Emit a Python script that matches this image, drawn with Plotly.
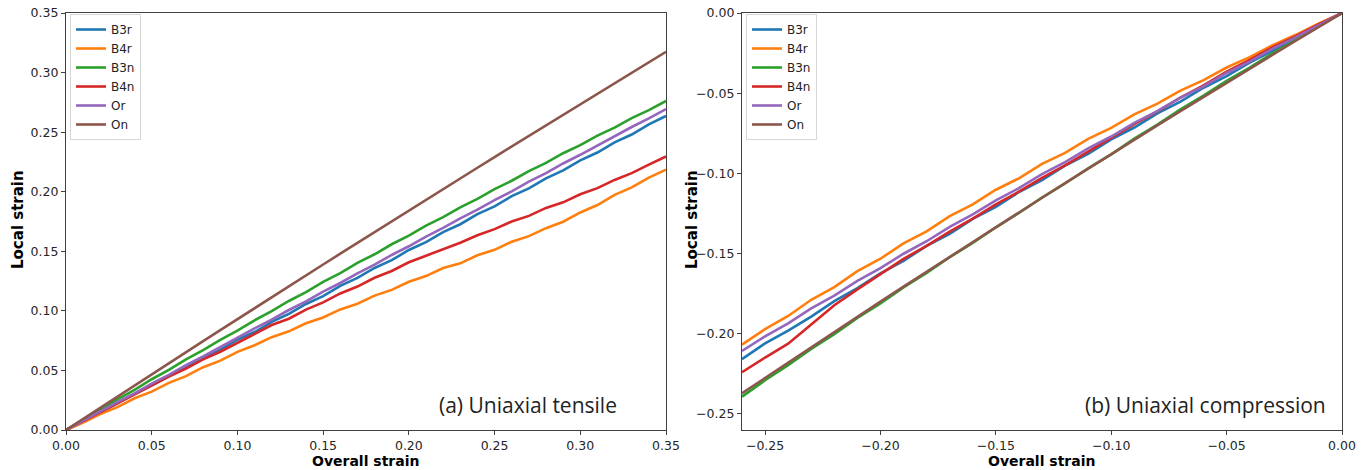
import plotly.graph_objects as go

# ---------------- data ----------------
series_names = ["B3r", "B4r", "B3n", "B4n", "Or", "On"]
series_colors = ["#1f77b4", "#ff7f0e", "#2ca02c", "#d62728", "#9467bd", "#8c564b"]

# (a) Uniaxial tensile
x_left = [0.00, 0.01, 0.02, 0.03, 0.04, 0.05, 0.06, 0.07, 0.08, 0.09,
          0.10, 0.11, 0.12, 0.13, 0.14, 0.15, 0.16, 0.17, 0.18, 0.19,
          0.20, 0.21, 0.22, 0.23, 0.24, 0.25, 0.26, 0.27, 0.28, 0.29,
          0.30, 0.31, 0.32, 0.33, 0.34, 0.35]
B3r_left = [0, 0.0073, 0.0153, 0.0224, 0.0304, 0.0374, 0.0455, 0.0522, 0.0606, 0.0672,
            0.0758, 0.0822, 0.0908, 0.0975, 0.1058, 0.1124, 0.1210, 0.1276, 0.1360, 0.1425,
            0.1511, 0.1577, 0.1661, 0.1727, 0.1812, 0.1877, 0.1963, 0.2028, 0.2112, 0.2179,
            0.2263, 0.2329, 0.2414, 0.2480, 0.2565, 0.2636]
B4r_left = [0, 0.0062, 0.0134, 0.0192, 0.0266, 0.0322, 0.0396, 0.0452, 0.0527, 0.0582,
            0.0656, 0.0711, 0.0779, 0.0828, 0.0896, 0.0944, 0.1012, 0.1060, 0.1128, 0.1176,
            0.1244, 0.1292, 0.1360, 0.1399, 0.1467, 0.1512, 0.1580, 0.1627, 0.1694, 0.1748,
            0.1826, 0.1888, 0.1974, 0.2036, 0.2118, 0.2185]
B3n_left = [0, 0.0087, 0.0168, 0.0258, 0.0337, 0.0426, 0.0504, 0.0592, 0.0670, 0.0757,
            0.0834, 0.0921, 0.0997, 0.1083, 0.1157, 0.1243, 0.1316, 0.1402, 0.1475, 0.1559,
            0.1631, 0.1715, 0.1786, 0.1869, 0.1940, 0.2022, 0.2092, 0.2173, 0.2242, 0.2323,
            0.2391, 0.2471, 0.2538, 0.2618, 0.2685, 0.2762]
B4n_left = [0, 0.0074, 0.0154, 0.0222, 0.0302, 0.0370, 0.0449, 0.0515, 0.0593, 0.0657,
            0.0734, 0.0806, 0.0881, 0.0934, 0.1010, 0.1071, 0.1146, 0.1204, 0.1278, 0.1335,
            0.1408, 0.1463, 0.1518, 0.1572, 0.1634, 0.1686, 0.1750, 0.1797, 0.1864, 0.1911,
            0.1979, 0.2030, 0.2099, 0.2156, 0.2228, 0.2296]
Or_left = [0, 0.0079, 0.0154, 0.0234, 0.0308, 0.0389, 0.0462, 0.0544, 0.0617, 0.0698,
           0.0772, 0.0853, 0.0926, 0.1007, 0.1080, 0.1161, 0.1234, 0.1315, 0.1388, 0.1469,
           0.1542, 0.1623, 0.1696, 0.1777, 0.1849, 0.1930, 0.2003, 0.2084, 0.2156, 0.2237,
           0.2310, 0.2390, 0.2463, 0.2543, 0.2616, 0.2694]
On_left = [0, 0.0094, 0.0188, 0.0281, 0.0374, 0.0468, 0.0561, 0.0653, 0.0746, 0.0838,
           0.0931, 0.1023, 0.1114, 0.1206, 0.1297, 0.1389, 0.1480, 0.1571, 0.1661, 0.1752,
           0.1842, 0.1932, 0.2022, 0.2112, 0.2201, 0.2291, 0.2380, 0.2469, 0.2558, 0.2646,
           0.2735, 0.2823, 0.2911, 0.2999, 0.3086, 0.3174]

# (b) Uniaxial compression
x_right = [-0.26, -0.25, -0.24, -0.23, -0.22, -0.21, -0.20, -0.19, -0.18, -0.17,
           -0.16, -0.15, -0.14, -0.13, -0.12, -0.11, -0.10, -0.09, -0.08, -0.07,
           -0.06, -0.05, -0.04, -0.03, -0.02, -0.01, 0.00]
B3r_right = [-0.2158, -0.2060, -0.1980, -0.1893, -0.1796, -0.1716, -0.1624, -0.1545, -0.1452, -0.1377,
             -0.1284, -0.1209, -0.1116, -0.1042, -0.0951, -0.0878, -0.0788, -0.0714, -0.0626, -0.0553,
             -0.0466, -0.0394, -0.0309, -0.0235, -0.0153, -0.0078, 0]
B4r_right = [-0.2068, -0.1971, -0.1889, -0.1788, -0.1709, -0.1610, -0.1532, -0.1437, -0.1361, -0.1266,
             -0.1193, -0.1102, -0.1031, -0.0941, -0.0872, -0.0785, -0.0716, -0.0632, -0.0565, -0.0484,
             -0.0419, -0.0340, -0.0275, -0.0200, -0.0136, -0.0065, 0]
B3n_right = [-0.2392, -0.2290, -0.2196, -0.2095, -0.2002, -0.1901, -0.1810, -0.1711, -0.1621, -0.1523,
             -0.1433, -0.1336, -0.1247, -0.1151, -0.1063, -0.0968, -0.0881, -0.0783, -0.0696, -0.0601,
             -0.0515, -0.0423, -0.0340, -0.0250, -0.0168, -0.0082, 0]
B4n_right = [-0.2240, -0.2148, -0.2062, -0.1943, -0.1822, -0.1723, -0.1627, -0.1533, -0.1452, -0.1363,
             -0.1282, -0.1193, -0.1114, -0.1028, -0.0950, -0.0864, -0.0780, -0.0693, -0.0614, -0.0528,
             -0.0452, -0.0366, -0.0292, -0.0213, -0.0144, -0.0069, 0]
Or_right = [-0.2107, -0.2016, -0.1935, -0.1842, -0.1762, -0.1670, -0.1591, -0.1501, -0.1423, -0.1333,
            -0.1256, -0.1168, -0.1092, -0.1005, -0.0930, -0.0844, -0.0770, -0.0685, -0.0612, -0.0528,
            -0.0457, -0.0374, -0.0303, -0.0222, -0.0151, -0.0073, 0]
On_right = [-0.2371, -0.2275, -0.2179, -0.2084, -0.1989, -0.1894, -0.1800, -0.1706, -0.1613, -0.1520,
            -0.1427, -0.1335, -0.1243, -0.1152, -0.1061, -0.0970, -0.0880, -0.0790, -0.0701, -0.0612,
            -0.0523, -0.0435, -0.0347, -0.0260, -0.0173, -0.0086, 0]

left_ticks = [0.00, 0.05, 0.10, 0.15, 0.20, 0.25, 0.30, 0.35]
left_ticktext = ["0.00", "0.05", "0.10", "0.15", "0.20", "0.25", "0.30", "0.35"]
right_xticks = [-0.25, -0.20, -0.15, -0.10, -0.05, 0.00]
right_xticktext = ["\u22120.25", "\u22120.20", "\u22120.15", "\u22120.10", "\u22120.05", "0.00"]
right_yticks = [-0.25, -0.20, -0.15, -0.10, -0.05, 0.00]
right_yticktext = ["\u22120.25", "\u22120.20", "\u22120.15", "\u22120.10", "\u22120.05", "0.00"]

x_title = "Overall strain"
y_title = "Local strain"
label_a = "(a) Uniaxial tensile"
label_b = "(b) Uniaxial compression"

left_series = [B3r_left, B4r_left, B3n_left, B4n_left, Or_left, On_left]
right_series = [B3r_right, B4r_right, B3n_right, B4n_right, Or_right, On_right]

# ---------------- figure ----------------
W, H = 1370, 470
fig = go.Figure()

for name, col, ys in zip(series_names, series_colors, left_series):
    fig.add_trace(go.Scatter(x=x_left, y=ys, mode="lines", name=name,
                             line=dict(color=col, width=2.6),
                             xaxis="x", yaxis="y", legend="legend"))
for name, col, ys in zip(series_names, series_colors, right_series):
    fig.add_trace(go.Scatter(x=x_right, y=ys, mode="lines", name=name,
                             line=dict(color=col, width=2.6),
                             xaxis="x2", yaxis="y2", legend="legend2"))

FONT = "DejaVu Sans"
axis_common = dict(showgrid=False, zeroline=False, showline=True, mirror=True,
                   linecolor="#404040", linewidth=1.3, ticks="outside", ticklen=4,
                   tickwidth=1, tickcolor="#404040",
                   tickfont=dict(family=FONT, size=12.5, color="#262626"))

ydom = [40 / H, 457 / H]
legend_common = dict(xanchor="left", yanchor="top",
                     bgcolor="white", bordercolor="#d6d6d6", borderwidth=1,
                     font=dict(family=FONT, size=12, color="#222222"),
                     tracegroupgap=0, itemwidth=30)
fig.update_layout(
    width=W, height=H,
    margin=dict(l=0, r=0, t=0, b=0),
    paper_bgcolor="white", plot_bgcolor="white",
    template="none",
    xaxis=dict(domain=[66 / W, 666 / W], range=[0, 0.35], anchor="y",
               tickvals=left_ticks, ticktext=left_ticktext, **axis_common),
    yaxis=dict(domain=ydom, range=[0, 0.35], anchor="x",
               tickvals=left_ticks, ticktext=left_ticktext, **axis_common),
    xaxis2=dict(domain=[742 / W, 1342 / W], range=[-0.26, 0], anchor="y2",
                tickvals=right_xticks, ticktext=right_xticktext, **axis_common),
    yaxis2=dict(domain=ydom, range=[-0.26, 0], anchor="x2",
                tickvals=right_yticks, ticktext=right_yticktext, **axis_common),
    legend=dict(x=70 / W, y=(H - 14) / H, **legend_common),
    legend2=dict(x=746 / W, y=(H - 14) / H, **legend_common),
    showlegend=True,
)

ann = []
TITLE_FONT = dict(family=FONT, size=14, color="black")
# axis titles
ann.append(dict(text="<b>" + x_title + "</b>", x=366 / W, y=(H - 461) / H,
                xref="paper", yref="paper", showarrow=False, font=TITLE_FONT,
                xanchor="center", yanchor="middle"))
ann.append(dict(text="<b>" + x_title + "</b>", x=1042 / W, y=(H - 461) / H,
                xref="paper", yref="paper", showarrow=False, font=TITLE_FONT,
                xanchor="center", yanchor="middle"))
ann.append(dict(text="<b>" + y_title + "</b>", x=18 / W, y=(H - 220) / H,
                xref="paper", yref="paper", showarrow=False, textangle=-90,
                font=dict(family=FONT, size=15, color="black"),
                xanchor="center", yanchor="middle"))
ann.append(dict(text="<b>" + y_title + "</b>", x=692 / W, y=(H - 220) / H,
                xref="paper", yref="paper", showarrow=False, textangle=-90,
                font=dict(family=FONT, size=15, color="black"),
                xanchor="center", yanchor="middle"))
# panel labels
ann.append(dict(text=label_a, x=619 / W, y=(H - 405) / H, xref="paper", yref="paper",
                showarrow=False, font=dict(family="Open Sans", size=21, color="#222222"),
                xanchor="right", yanchor="middle"))
ann.append(dict(text=label_b, x=1328 / W, y=(H - 405) / H, xref="paper", yref="paper",
                showarrow=False, font=dict(family="Open Sans", size=21, color="#222222"),
                xanchor="right", yanchor="middle"))
fig.update_layout(annotations=ann)

fig.write_html("out.html")
